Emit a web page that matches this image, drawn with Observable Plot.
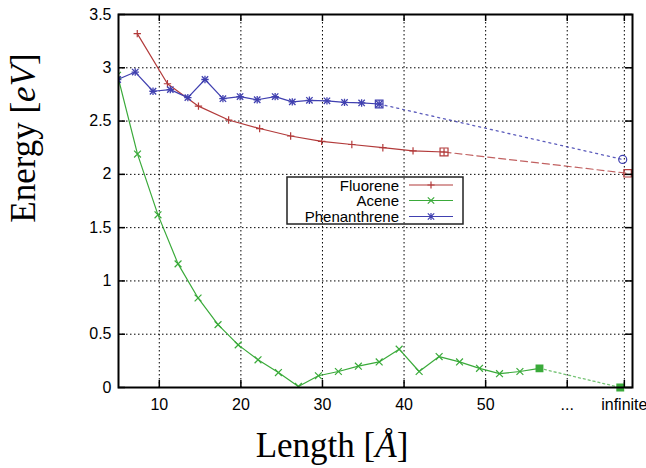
<!DOCTYPE html>
<html><head><meta charset="utf-8">
<script src="https://cdn.jsdelivr.net/npm/d3@7"></script>
<script src="https://cdn.jsdelivr.net/npm/@observablehq/plot@0.6"></script>
<style>body{margin:0;background:#fff}#chart{width:646px;height:468px}</style>
</head><body><div id="chart"></div>
<script>
// ---- data ----
const fluoreneX = [7.3, 11.0, 14.8, 18.5, 22.3, 26.1, 29.9, 33.6, 37.4, 41.1, 44.9];
const fluoreneY = [3.32, 2.85, 2.64, 2.51, 2.43, 2.36, 2.31, 2.28, 2.25, 2.22, 2.21];
const fluoreneInfX = [44.9, 67.4];
const fluoreneInfY = [2.21, 2.01];

const aceneX = [4.88, 7.33, 9.84, 12.3, 14.75, 17.2, 19.67, 22.1, 24.6, 27.05, 29.5, 31.95, 34.4, 36.95, 39.4, 41.85, 44.3, 46.8, 49.25, 51.7, 54.2, 56.6];
const aceneY = [2.93, 2.19, 1.62, 1.16, 0.84, 0.59, 0.40, 0.26, 0.14, 0.01, 0.11, 0.15, 0.20, 0.24, 0.36, 0.15, 0.29, 0.24, 0.18, 0.13, 0.15, 0.18];
const aceneInfX = [56.6, 66.5];
const aceneInfY = [0.18, 0.0];

const phenX = [4.9, 7.05, 9.23, 11.35, 13.5, 15.6, 17.8, 19.9, 22.0, 24.2, 26.3, 28.4, 30.55, 32.7, 34.8, 36.95];
const phenY = [2.89, 2.96, 2.78, 2.795, 2.72, 2.89, 2.71, 2.73, 2.70, 2.73, 2.68, 2.695, 2.69, 2.675, 2.67, 2.66];
const phenInfX = [36.95, 66.8];
const phenInfY = [2.66, 2.14];

const seriesNames = ["Fluorene", "Acene", "Phenanthrene"];
const xTickValues = [10, 20, 30, 40, 50, 60, 67];
const xTickLabels = ["10", "20", "30", "40", "50", "...", "infinite"];
const yTickValues = [0, 0.5, 1, 1.5, 2, 2.5, 3, 3.5];
const yTickLabels = ["0", "0.5", "1", "1.5", "2", "2.5", "3", "3.5"];
const xDomain = [5, 68];
const yDomain = [0, 3.5];

// ---- styles ----
const RED = "#b23a3a", GREEN = "#3aaa3a", BLUE = "#4040b0";
const rows = (xs, ys) => xs.map((x, i) => ({x, y: ys[i]}));
const fl = rows(fluoreneX, fluoreneY), flInf = rows(fluoreneInfX, fluoreneInfY);
const ac = rows(aceneX, aceneY), acInf = rows(aceneInfX, aceneInfY);
const ph = rows(phenX, phenY), phInf = rows(phenInfX, phenInfY);

const chart = Plot.plot({
  width: 646, height: 468,
  marginLeft: 118, marginRight: 14, marginTop: 14, marginBottom: 81,
  x: {domain: xDomain},
  y: {domain: yDomain},
  style: {background: "white", fontFamily: "'Liberation Sans', Arial, sans-serif"},
  marks: [
    Plot.gridX(xTickValues, {stroke: "black", strokeOpacity: 1, strokeWidth: 1, strokeDasharray: "1.5,2.5"}),
    Plot.gridY(yTickValues, {stroke: "black", strokeOpacity: 1, strokeWidth: 1, strokeDasharray: "1.5,2.5"}),
    Plot.axisX(xTickValues, {tickSize: 0, tickPadding: 11, fontSize: 16, label: null,
      tickFormat: d => xTickLabels[xTickValues.indexOf(d)]}),
    Plot.axisY(yTickValues, {tickSize: 0, tickPadding: 7, fontSize: 16, label: null,
      tickFormat: d => yTickLabels[yTickValues.indexOf(d)]}),
    // extrapolation lines
    Plot.line(flInf, {x: "x", y: "y", stroke: RED, strokeOpacity: 0.8, strokeWidth: 1.2, strokeDasharray: "7,4"}),
    Plot.line(phInf, {x: "x", y: "y", stroke: BLUE, strokeOpacity: 0.85, strokeWidth: 1.3, strokeDasharray: "2,4"}),
    Plot.line(acInf, {x: "x", y: "y", stroke: GREEN, strokeOpacity: 0.7, strokeWidth: 1.3, strokeDasharray: "2,3"}),
    // series lines
    Plot.line(fl, {x: "x", y: "y", stroke: RED, strokeWidth: 1.2, clip: true}),
    Plot.line(ac, {x: "x", y: "y", stroke: GREEN, strokeWidth: 1.2, clip: true}),
    Plot.line(ph, {x: "x", y: "y", stroke: BLUE, strokeWidth: 1.2, clip: true}),
    // markers
    Plot.dot(fl, {x: "x", y: "y", symbol: "plus", r: 2.5, stroke: RED, strokeWidth: 1.2}),
    Plot.dot(ac.slice(0, -1), {x: "x", y: "y", symbol: "times", r: 3.2, stroke: GREEN, strokeWidth: 1.2, clip: true}),
    Plot.dot(ph, {x: "x", y: "y", symbol: "plus", r: 2.5, stroke: BLUE, strokeWidth: 1.3, clip: true}),
    Plot.dot(ph, {x: "x", y: "y", symbol: "times", r: 3.0, stroke: BLUE, strokeWidth: 1.3, clip: true}),
    // end markers
    Plot.dot(fl.slice(-1), {x: "x", y: "y", symbol: "square", r: 4.5, stroke: RED, fill: "none", strokeWidth: 1.2}),
    Plot.dot(ph.slice(-1), {x: "x", y: "y", symbol: "square", r: 4.3, stroke: BLUE, fill: "none", strokeWidth: 1.2}),
    Plot.dot(ac.slice(-1), {x: "x", y: "y", symbol: "square", r: 3.6, fill: GREEN, stroke: GREEN}),
    Plot.dot(flInf.slice(-1), {x: "x", y: "y", symbol: "square", r: 4.2, stroke: RED, fill: "none", strokeWidth: 1.2}),
    Plot.dot(phInf.slice(-1), {x: "x", y: "y", symbol: "circle", r: 4, stroke: BLUE, fill: "none", strokeWidth: 1.2}),
    Plot.dot(acInf.slice(-1), {x: "x", y: "y", symbol: "square", r: 3.6, fill: GREEN, stroke: GREEN}),
    // inward ticks on all four sides
    Plot.ruleX(xTickValues, {x: d => d, y1: yDomain[0], y2: yDomain[0], insetTop: -7, stroke: "black", strokeWidth: 1.5}),
    Plot.ruleX(xTickValues, {x: d => d, y1: yDomain[1], y2: yDomain[1], insetBottom: -7, stroke: "black", strokeWidth: 1.5}),
    Plot.ruleY(yTickValues, {y: d => d, x1: xDomain[0], x2: xDomain[0], insetRight: -7, stroke: "black", strokeWidth: 1.5}),
    Plot.ruleY(yTickValues, {y: d => d, x1: xDomain[1], x2: xDomain[1], insetLeft: -7, stroke: "black", strokeWidth: 1.5}),
    Plot.frame({stroke: "black", strokeWidth: 2})
  ]
});
document.getElementById("chart").appendChild(chart);

// ---- axis titles (LaTeX-like serif) ----
const svg = d3.select(chart);
const serif = "'Liberation Serif', 'DejaVu Serif', serif";
const yl = svg.append("text").attr("transform", "translate(35,138) rotate(-90)")
  .attr("text-anchor", "middle").style("font-family", serif).style("font-size", "35px").attr("fill", "black");
yl.append("tspan").text("Energy [");
yl.append("tspan").style("font-style", "italic").text("eV");
yl.append("tspan").text("]");
const xl = svg.append("text").attr("x", 332).attr("y", 457)
  .attr("text-anchor", "middle").style("font-family", serif).style("font-size", "35px").attr("fill", "black");
xl.append("tspan").text("Length [");
xl.append("tspan").style("font-style", "italic").text("Å");
xl.append("tspan").text("]");

// ---- legend ----
const lg = svg.append("g");
lg.append("rect").attr("x", 287).attr("y", 177).attr("width", 176).attr("height", 47)
  .attr("fill", "none").attr("stroke", "#222").attr("stroke-width", 1.5);
const legendColors = [RED, GREEN, BLUE];
const rowY = [185, 200.5, 216.5];
seriesNames.forEach((name, i) => {
  const cy = rowY[i], c = legendColors[i];
  lg.append("text").attr("x", 399).attr("y", cy + 5.5).attr("text-anchor", "end")
    .style("font-family", "'Liberation Sans', Arial, sans-serif").style("font-size", "15px").attr("fill", "black").text(name);
  lg.append("line").attr("x1", 409).attr("x2", 453).attr("y1", cy).attr("y2", cy).attr("stroke", c).attr("stroke-width", 1.2);
  const cx = 431, h = 3.6;
  let d = "";
  if (i === 0 || i === 2) d += `M${cx - h},${cy}H${cx + h}M${cx},${cy - h}V${cy + h}`;
  if (i === 1 || i === 2) d += `M${cx - 3.2},${cy - 3.2}L${cx + 3.2},${cy + 3.2}M${cx - 3.2},${cy + 3.2}L${cx + 3.2},${cy - 3.2}`;
  lg.append("path").attr("d", d).attr("stroke", c).attr("stroke-width", 1.2).attr("fill", "none");
});
</script>
</body></html>
